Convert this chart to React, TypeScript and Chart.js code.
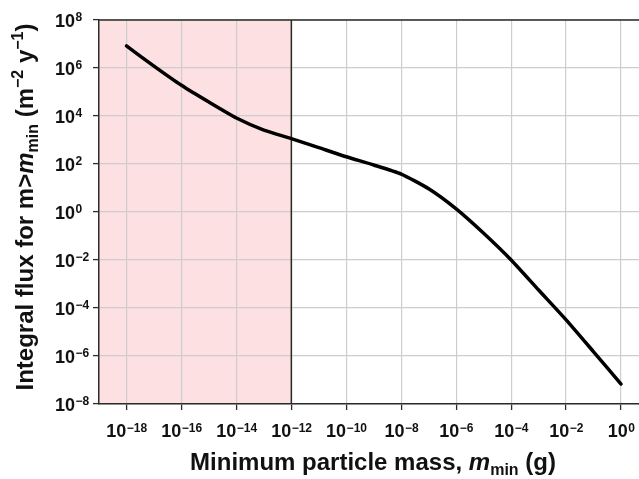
import React, { useEffect, useRef } from "react";
import { Chart, registerables } from "chart.js";

Chart.register(...registerables);

// ---- data ----
const massValues = [
  1e-18, 1e-17, 1e-16, 1e-15, 1e-14, 1e-13, 1e-12, 1e-11, 1e-10, 1e-9,
  1e-8, 1e-7, 1e-6, 1e-5, 1e-4, 1e-3, 1e-2, 1e-1, 1,
];
const fluxValues = [
  8.3e6, 1.2e6, 1.9e5, 3.8e4, 8.3e3, 2.6e3, 1.15e3, 4.8e2, 2.0e2, 91,
  38, 9.3, 1.35, 1.3e-1, 1.0e-2, 5.6e-4, 3.2e-5, 1.5e-6, 6.8e-8,
];
const xTickExponents = [-18, -16, -14, -12, -10, -8, -6, -4, -2, 0];
const yTickExponents = [-8, -6, -4, -2, 0, 2, 4, 6, 8];
const xRange = [1e-19, 4.5];
const yRange = [1e-8, 1e8];
const shadedRange = [1e-19, 1e-12];

const xTitleParts = [
  { text: "Minimum particle mass, " },
  { text: "m", italic: true },
  { text: "min", sub: true },
  { text: " (g)" },
];
const yTitleParts = [
  { text: "Integral flux for m>" },
  { text: "m", italic: true },
  { text: "min", sub: true },
  { text: " (m" },
  { text: "\u22122", sup: true },
  { text: " y" },
  { text: "\u22121", sup: true },
  { text: ")" },
];

// ---- styles ----
const FONT = "'Liberation Sans', Arial, Helvetica, sans-serif";
const TITLE_SIZE = 24;
const TICK_SIZE = 18;
const EXP_SIZE = 12;
const shadeColor = "rgb(253, 224, 226)";
const axisColor = "#2b2b2b";
const gridColor = "#cdcdcd";

type Part = { text: string; italic?: boolean; sub?: boolean; sup?: boolean };

function partFont(p: Part, size: number) {
  const s = p.sub || p.sup ? Math.round(size * 0.68) : size;
  return `${p.italic ? "italic " : ""}bold ${s}px ${FONT}`;
}

function drawRich(ctx: CanvasRenderingContext2D, parts: Part[], cx: number, baseline: number, size: number) {
  const widths = parts.map((p) => {
    ctx.font = partFont(p, size);
    return ctx.measureText(p.text).width;
  });
  const total = widths.reduce((a, b) => a + b, 0);
  let x = cx - total / 2;
  ctx.textAlign = "left";
  ctx.textBaseline = "alphabetic";
  parts.forEach((p, i) => {
    ctx.font = partFont(p, size);
    let dy = 0;
    if (p.sub) dy = size * 0.22;
    if (p.sup) dy = -size * 0.4;
    ctx.fillText(p.text, x, baseline + dy);
    x += widths[i];
  });
}

function powLabel(exp: number) {
  return exp < 0 ? "\u2212" + String(-exp) : String(exp);
}

function drawPow(ctx: CanvasRenderingContext2D, exp: number, x: number, baseline: number, align: "center" | "left") {
  const big = `bold ${TICK_SIZE}px ${FONT}`;
  const small = `bold ${EXP_SIZE}px ${FONT}`;
  const sup = powLabel(exp);
  ctx.font = big;
  const bw = ctx.measureText("10").width;
  ctx.font = small;
  const sw = ctx.measureText(sup).width;
  const x0 = align === "center" ? x - (bw + sw) / 2 : x;
  ctx.textAlign = "left";
  ctx.textBaseline = "alphabetic";
  ctx.font = big;
  ctx.fillText("10", x0, baseline);
  ctx.font = small;
  ctx.fillText(sup, x0 + bw + 0.5, baseline - 5.5);
}

const decorPlugin = {
  id: "decor",
  beforeDraw(chart: any) {
    const { ctx, chartArea: ca, scales } = chart;
    ctx.save();
    ctx.fillStyle = "#ffffff";
    ctx.fillRect(0, 0, chart.width, chart.height);
    const x0 = scales.x.getPixelForValue(shadedRange[0]);
    const x1 = scales.x.getPixelForValue(shadedRange[1]);
    ctx.fillStyle = shadeColor;
    ctx.fillRect(x0, ca.top, x1 - x0, ca.bottom - ca.top);
    ctx.restore();
  },
  beforeDatasetsDraw(chart: any) {
    const { ctx, chartArea: ca, scales } = chart;
    ctx.save();
    ctx.strokeStyle = axisColor;
    ctx.lineWidth = 1.5;
    const xb = scales.x.getPixelForValue(shadedRange[1]);
    ctx.beginPath();
    ctx.moveTo(xb, ca.top);
    ctx.lineTo(xb, ca.bottom);
    ctx.stroke();
    ctx.beginPath();
    ctx.moveTo(ca.left, ca.top);
    ctx.lineTo(ca.right, ca.top);
    ctx.stroke();
    ctx.restore();
  },
  afterDraw(chart: any) {
    const { ctx, scales } = chart;
    ctx.save();
    ctx.fillStyle = "#111111";
    xTickExponents.forEach((e) => {
      drawPow(ctx, e, scales.x.getPixelForValue(Math.pow(10, e)), 437, "center");
    });
    yTickExponents.forEach((e) => {
      drawPow(ctx, e, 55, scales.y.getPixelForValue(Math.pow(10, e)) + 6.5, "left");
    });
    drawRich(ctx, xTitleParts, 373, 470, TITLE_SIZE);
    ctx.save();
    ctx.translate(33, 207);
    ctx.rotate(-Math.PI / 2);
    drawRich(ctx, yTitleParts, 0, 0, TITLE_SIZE);
    ctx.restore();
    ctx.restore();
  },
};

export default function App() {
  const ref = useRef<HTMLCanvasElement | null>(null);
  useEffect(() => {
    if (!ref.current) return;
    const chart = new Chart(ref.current, {
      type: "line",
      data: {
        datasets: [
          {
            data: massValues.map((m, i) => ({ x: m, y: fluxValues[i] })),
            borderColor: "#000000",
            borderWidth: 3.5,
            borderCapStyle: "round",
            borderJoinStyle: "round",
            pointRadius: 0,
            tension: 0.2,
            fill: false,
          },
        ],
      },
      options: {
        responsive: false,
        animation: false,
        devicePixelRatio: 1,
        layout: { padding: { top: 20, left: 0, right: 0, bottom: 0 } },
        plugins: { legend: { display: false }, tooltip: { enabled: false }, title: { display: false } },
        scales: {
          x: {
            type: "logarithmic",
            min: xRange[0],
            max: xRange[1],
            border: { display: true, color: axisColor, width: 1.5 },
            grid: { color: gridColor, lineWidth: 1.2, drawTicks: true, tickLength: 6, tickColor: axisColor, tickWidth: 1.3 },
            ticks: { display: false },
            afterBuildTicks: (s: any) => {
              s.ticks = xTickExponents.map((e) => ({ value: Math.pow(10, e) }));
            },
            afterFit: (s: any) => {
              s.height = 75;
            },
          },
          y: {
            type: "logarithmic",
            min: yRange[0],
            max: yRange[1],
            border: { display: true, color: axisColor, width: 1.5 },
            grid: { color: gridColor, lineWidth: 1.2, drawTicks: true, tickLength: 6, tickColor: axisColor, tickWidth: 1.3 },
            ticks: { display: false },
            afterBuildTicks: (s: any) => {
              s.ticks = yTickExponents.map((e) => ({ value: Math.pow(10, e) }));
            },
            afterFit: (s: any) => {
              s.width = 99;
            },
          },
        },
      },
      plugins: [decorPlugin],
    } as any);
    return () => chart.destroy();
  }, []);
  return (
    <div style={{ position: "absolute", left: 0, top: 0, width: 639, height: 479 }}>
      <canvas ref={ref} width={639} height={479} style={{ display: "block", width: 639, height: 479 }} />
    </div>
  );
}
